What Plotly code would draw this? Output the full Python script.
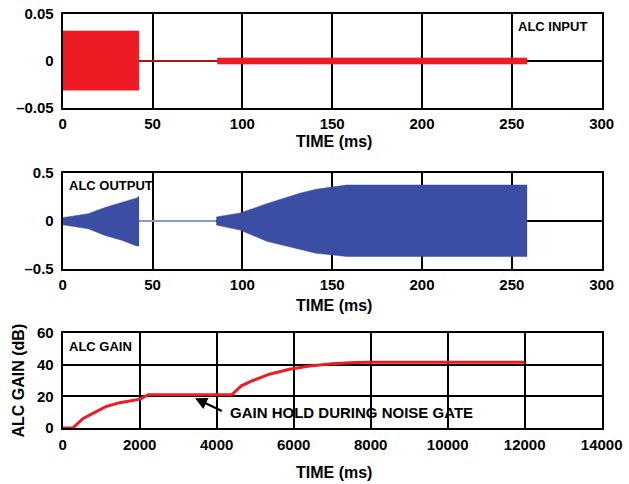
import plotly.graph_objects as go

# ---------------- data ----------------
# ALC INPUT (ms, V): envelope of the dense tone segments
in_burst_t = [0, 42.5]
in_burst_hi = [0.032, 0.032]
in_burst_lo = [-0.031, -0.031]
in_gate_t = [42.5, 86]
in_gate_v = [0.0, 0.0]
in_low_t = [86, 258.5]
in_low_hi = [0.0033, 0.0033]
in_low_lo = [-0.0033, -0.0033]

# ALC OUTPUT envelope
out1_t = [0, 3, 14.2, 23.5, 32.8, 41.2, 42.5]
out1_hi = [0.035, 0.045, 0.076, 0.14, 0.19, 0.24, 0.26]
out1_lo = [-0.04, -0.05, -0.08, -0.15, -0.2, -0.26, -0.26]
out_gate_t = [42.5, 85.5]
out_gate_v = [0.0, 0.0]
out2_t = [85.5, 98.7, 113.5, 132, 141, 150.6, 158, 258.5]
out2_hi = [0.042, 0.083, 0.18, 0.29, 0.33, 0.355, 0.375, 0.375]
out2_lo = [-0.042, -0.094, -0.21, -0.30, -0.336, -0.354, -0.37, -0.37]

# ALC GAIN
gain_t = [0, 260, 530, 1120, 1480, 2013, 2223, 4390, 4640, 4940, 5370, 5890,
          6410, 7000, 7600, 8000, 12000]
gain_db = [0, 0, 6, 13.5, 16, 18.2, 21.0, 21.0, 26.6, 30, 34, 37.1,
           39.2, 40.6, 41.3, 41.5, 41.5]

x1_ticks = [0, 50, 100, 150, 200, 250, 300]
x1_text = ["0", "50", "100", "150", "200", "250", "300"]
y1_ticks = [-0.05, 0, 0.05]
y1_text = ["\u20130.05", "0", "0.05"]
y2_ticks = [-0.5, 0, 0.5]
y2_text = ["\u20130.5", "0", "0.5"]
x3_ticks = [0, 2000, 4000, 6000, 8000, 10000, 12000, 14000]
x3_text = ["0", "2000", "4000", "6000", "8000", "10000", "12000", "14000"]
y3_ticks = [0, 20, 40, 60]
y3_text = ["0", "20", "40", "60"]

RED = "#ED1C24"
BLUE = "#3B4EA3"
LBLUE = "#8C97CB"
FONT = "Liberation Sans, Arial, sans-serif"

# body margin is removed below, so the figure fills the window from (0, 0)
W, H = 629, 484
def px(x):
    return x / W
def py(y):
    return 1 - y / H

fig = go.Figure()

def band(t, lo, hi, color, xa, ya):
    fig.add_trace(go.Scatter(x=t, y=lo, mode="lines", line=dict(color=color, width=0.5),
                             xaxis=xa, yaxis=ya, showlegend=False, hoverinfo="skip"))
    fig.add_trace(go.Scatter(x=t, y=hi, mode="lines", line=dict(color=color, width=0.5),
                             fill="tonexty", fillcolor=color,
                             xaxis=xa, yaxis=ya, showlegend=False, hoverinfo="skip"))

band(in_burst_t, in_burst_lo, in_burst_hi, RED, "x", "y")
fig.add_trace(go.Scatter(x=in_gate_t, y=in_gate_v, mode="lines", line=dict(color=RED, width=1.5),
                         xaxis="x", yaxis="y", showlegend=False))
band(in_low_t, in_low_lo, in_low_hi, RED, "x", "y")

band(out1_t, out1_lo, out1_hi, BLUE, "x2", "y2")
fig.add_trace(go.Scatter(x=out_gate_t, y=out_gate_v, mode="lines", line=dict(color=LBLUE, width=2),
                         xaxis="x2", yaxis="y2", showlegend=False))
band(out2_t, out2_lo, out2_hi, BLUE, "x2", "y2")

fig.add_trace(go.Scatter(x=gain_t, y=gain_db, mode="lines", line=dict(color=RED, width=3),
                         xaxis="x3", yaxis="y3", showlegend=False))

xdom = [px(62.7), px(601.7)]
axis_common = dict(showline=True, mirror=True, linecolor="black", linewidth=2,
                   showgrid=True, gridcolor="black", gridwidth=2, zeroline=False,
                   ticks="", automargin=False, ticklabeloverflow="allow",
                   tickfont=dict(family=FONT, size=15, color="black", weight="bold"),
                   fixedrange=True)

fig.update_layout(
    width=W, height=H, margin=dict(l=0, r=0, t=0, b=0),
    paper_bgcolor="white", plot_bgcolor="white",
    font=dict(family=FONT, color="black"),
    xaxis=dict(domain=xdom, anchor="y", range=[0, 300], tickvals=x1_ticks, ticktext=x1_text,
               ticklabelstandoff=1, **axis_common),
    yaxis=dict(domain=[py(108), py(14)], anchor="x", range=[-0.05, 0.05],
               tickvals=y1_ticks, ticktext=y1_text, ticklabelstandoff=4, **axis_common),
    xaxis2=dict(domain=xdom, anchor="y2", range=[0, 300], tickvals=x1_ticks, ticktext=x1_text,
                ticklabelstandoff=1, **axis_common),
    yaxis2=dict(domain=[py(269), py(173)], anchor="x2", range=[-0.5, 0.5],
                tickvals=y2_ticks, ticktext=y2_text, ticklabelstandoff=4, **axis_common),
    xaxis3=dict(domain=xdom, anchor="y3", range=[0, 14000], tickvals=x3_ticks, ticktext=x3_text,
                ticklabelstandoff=2, **axis_common),
    yaxis3=dict(domain=[py(428), py(333)], anchor="x3", range=[0, 60],
                tickvals=y3_ticks, ticktext=y3_text, ticklabelstandoff=4, **axis_common),
)

bold16 = dict(family=FONT, size=16, color="black")
bold13 = dict(family=FONT, size=13, color="black")
bold15 = dict(family=FONT, size=15, color="black")

anns = [
    dict(text="<b>TIME (ms)</b>", x=px(334), y=py(141), font=bold16),
    dict(text="<b>TIME (ms)</b>", x=px(334), y=py(305), font=bold16),
    dict(text="<b>TIME (ms)</b>", x=px(334), y=py(472), font=bold16),
    dict(text="<b>ALC GAIN (dB)</b>", x=px(17.5), y=py(381), font=bold16, textangle=-90),
    dict(text="<b>ALC INPUT</b>", x=px(589), y=py(27), font=bold13, xanchor="right"),
    dict(text="<b>ALC OUTPUT</b>", x=px(67), y=py(186), font=bold13, xanchor="left"),
    dict(text="<b>ALC GAIN</b>", x=px(67), y=py(346), font=bold13, xanchor="left"),
    dict(text="<b>GAIN HOLD DURING NOISE GATE</b>", x=px(228), y=py(412.7), font=bold15,
         xanchor="left"),
]
for a in anns:
    a.setdefault("xanchor", "center")
    fig.add_annotation(xref="paper", yref="paper", showarrow=False, yanchor="middle", **a)

fig.add_annotation(x=3436, y=18.8, xref="x3", yref="y3", ax=4172, ay=10.3,
                   axref="x3", ayref="y3", text="", showarrow=True,
                   arrowhead=2, arrowsize=1.1, arrowwidth=2.2, arrowcolor="black")

fig.write_html("out.html", config={"displayModeBar": False},
               post_script="document.body.style.margin='0px';document.body.style.overflow='hidden';")
